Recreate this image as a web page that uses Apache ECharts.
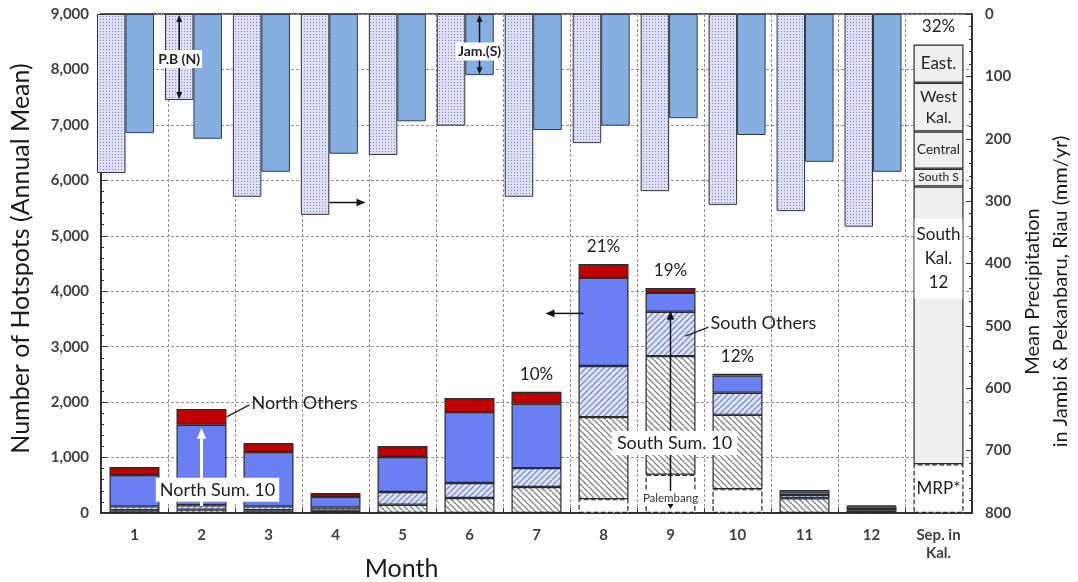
<!DOCTYPE html>
<html><head><meta charset="utf-8">
<script src="https://cdn.jsdelivr.net/npm/echarts@6/dist/echarts.min.js"></script>
<style>html,body{margin:0;padding:0;background:#fff}#c{width:1078px;height:582px}</style>
</head><body><div id="c"></div>
<script>
// ---------- DATA ----------
const months = ['1','2','3','4','5','6','7','8','9','10','11','12','Sep. in\nKal.'];
const precipMonths = ['1','2','3','4','5','6','7','8','9','10','11','12'];
// Mean precipitation (mm/yr), right axis (inverted)
const precipPB = [255,138,293,322,226,179,293,207,284,306,316,341];      // Pekanbaru, Riau (North)
const precipJambi = [191,200,253,224,172,98,186,179,167,194,237,253];    // Jambi (South)
// Hotspots (annual mean), stacked bottom -> top
const palembang   = [0,0,0,0,0,0,0,250,690,430,0,0,0];
const southSum10  = [50,60,50,40,150,270,470,1480,2140,1340,265,40,0];
const southOthers = [70,80,70,60,230,270,340,920,800,400,60,30,0];
const northSum10  = [565,1450,980,190,630,1280,1160,1590,340,310,60,50,0];
const northOthers = [145,288,163,72,199,253,217,253,90,30,30,20,0];
const pctLabels   = ['','','','','','','10%','21%','19%','12%','','','32%'];
// September in Kalimantan breakdown (bottom -> top)
const sepSegNames  = ['MRP*','South\nKal.\n12','South S','Central','West\nKal.','East.'];
const sepSegValues = [880,5010,320,670,880,690];
const leftTicks = [0,1000,2000,3000,4000,5000,6000,7000,8000,9000];
const rightTicks = [0,100,200,300,400,500,600,700,800];

// ---------- STYLE HELPERS ----------
const FONT = 'Lato, "Open Sans", sans-serif';
function hatch(bg, line, dir, s, lw){
  const c=document.createElement('canvas'); c.width=c.height=s;
  const g=c.getContext('2d'); g.fillStyle=bg; g.fillRect(0,0,s,s);
  g.strokeStyle=line; g.lineWidth=lw; g.beginPath();
  for(const k of [-1,0,1]){
    if(dir==='/'){ g.moveTo(k*s, s); g.lineTo(k*s+s, 0); }
    else { g.moveTo(k*s, 0); g.lineTo(k*s+s, s); }
  }
  g.stroke();
  return {image:c, repeat:'repeat'};
}
function dots(bg, dot){
  const c=document.createElement('canvas'); c.width=c.height=3;
  const g=c.getContext('2d'); g.fillStyle=bg; g.fillRect(0,0,3,3);
  g.fillStyle=dot; g.fillRect(1,1,1,1);
  return {image:c, repeat:'repeat'};
}
const dotFill = dots('#dcdff6','#7f85c2');
const ssFill = hatch('#ffffff','#858585','\\',6,1.4);
const soFill = hatch('#e0e5fb','#7a8cdf','/',6,1.4);
const border = {borderColor:'#2b2b2b', borderWidth:1.2};
const PBW = 28.5, HBW = 50;
const nn = v => (v > 0 ? v : null);

const chart = echarts.init(document.getElementById('c'), null, {renderer:'canvas'});

const hotSeries = [
  ['Palembang', palembang, {color:'#ffffff', borderColor:'#222', borderWidth:1.2, borderType:'dashed'}],
  ['South Sum. 10', southSum10, Object.assign({color:ssFill}, border)],
  ['South Others', southOthers, Object.assign({color:soFill}, border)],
  ['North Sum. 10', northSum10, Object.assign({color:'#6a7ff2'}, border)],
  ['North Others', northOthers, Object.assign({color:'#c00000'}, border)]
].map(([name, arr, st]) => ({
  name, type:'bar', xAxisIndex:0, yAxisIndex:0, stack:'hs', barWidth:HBW,
  data: arr.map(nn), itemStyle: st
}));

const sepLabelStyle = {
  'MRP*': {fontSize:17},
  'South\nKal.\n12': {fontSize:17, position:'insideTop', distance:32, backgroundColor:'#fff', padding:[4,2], lineHeight:24},
  'South S': {fontSize:12},
  'Central': {fontSize:13.5},
  'West\nKal.': {fontSize:16, lineHeight:21},
  'East.': {fontSize:17}
};
const sepSeries = sepSegNames.map((name, k) => ({
  name, type:'bar', xAxisIndex:0, yAxisIndex:0, stack:'hs', barWidth:HBW,
  data: months.map((m,i) => i === 12 ? sepSegValues[k] : null),
  itemStyle: name === 'MRP*'
    ? {color:'#ffffff', borderColor:'#222', borderWidth:1.2, borderType:'dashed'}
    : Object.assign({color:'#efefef'}, border),
  label: Object.assign({show:true, position:'inside', color:'#222', fontFamily:FONT,
    formatter: () => name}, sepLabelStyle[name])
}));

const pctSeries = {
  name:'pct', type:'bar', xAxisIndex:0, yAxisIndex:0, stack:'hs', barWidth:HBW,
  data: months.map(() => 0),
  itemStyle:{color:'rgba(0,0,0,0)', borderWidth:0},
  label:{show:true, position:'top', distance:9, color:'#222', fontSize:17, fontFamily:FONT,
    formatter: p => pctLabels[p.dataIndex]}
};

const option = {
  animation:false,
  backgroundColor:'#fff',
  grid:[
    {left:94, right:106, top:14, bottom:69, show:true, borderColor:'#222', borderWidth:1.5, backgroundColor:'transparent'},
    {left:91.5, right:171, top:14, bottom:69}
  ],
  xAxis:[
    {gridIndex:0, type:'category', data:months,
     axisLine:{lineStyle:{color:'#222', width:1.5}},
     axisTick:{show:true, inside:true, length:5, lineStyle:{color:'#333'}},
     axisLabel:{color:'#404040', fontWeight:'bold', fontSize:15, fontFamily:FONT, margin:13, lineHeight:18},
     splitLine:{show:true, lineStyle:{color:'#8f8f8f', type:[3,2], width:1}}},
    {gridIndex:1, type:'category', data:precipMonths, show:false}
  ],
  yAxis:[
    {gridIndex:0, type:'value', min:0, max:9000, interval:1000,
     name:'Number of Hotspots (Annual Mean)', nameLocation:'middle', nameGap:68,
     nameTextStyle:{fontSize:25, color:'#1a1a1a', fontFamily:FONT, padding:[0,0,0,10]},
     axisLine:{show:true, lineStyle:{color:'#222', width:1.5}},
     axisTick:{show:true, inside:true, length:6, lineStyle:{color:'#333'}},
     minorTick:{show:true, splitNumber:5, length:3, lineStyle:{color:'#333'}},
     axisLabel:{color:'#404040', fontWeight:'bold', fontSize:15, fontFamily:FONT, margin:12,
       formatter: v => leftTicks.includes(v) ? v.toLocaleString('en-US') : ''},
     splitLine:{show:true, lineStyle:{color:'#8f8f8f', type:[3,2], width:1}}},
    {gridIndex:0, type:'value', position:'right', min:0, max:800, interval:100, inverse:true,
     axisLine:{show:true, lineStyle:{color:'#222', width:1.5}},
     axisTick:{show:true, inside:true, length:6, lineStyle:{color:'#333'}},
     minorTick:{show:true, splitNumber:5, length:3, lineStyle:{color:'#333'}},
     axisLabel:{color:'#404040', fontWeight:'bold', fontSize:15, fontFamily:FONT, margin:13,
       formatter: v => rightTicks.includes(v) ? String(v) : ''},
     splitLine:{show:false}},
    {gridIndex:1, type:'value', min:0, max:800, inverse:true, show:false}
  ],
  series:[
    {name:'P.B (N)', type:'bar', xAxisIndex:1, yAxisIndex:2, data:precipPB, barWidth:PBW, barGap:'0%',
     itemStyle:Object.assign({color:dotFill}, {borderColor:'#333', borderWidth:1})},
    {name:'Jam.(S)', type:'bar', xAxisIndex:1, yAxisIndex:2, data:precipJambi, barWidth:PBW, barGap:'0%',
     itemStyle:{color:'#86aee1', borderColor:'#2f3b55', borderWidth:1}},
    ...hotSeries, ...sepSeries, pctSeries
  ]
};
chart.setOption(option);

// ---------- ANNOTATIONS (positions derived from axes) ----------
const P = (si, cat, val) => chart.convertToPixel({seriesIndex:si}, [cat, val]);
const els = [];
function arrow(x1,y1,x2,y2,color,w,head,both){
  const ang=Math.atan2(y2-y1,x2-x1);
  const sx = both ? x1 + head*0.8*Math.cos(ang) : x1, sy = both ? y1 + head*0.8*Math.sin(ang) : y1;
  const ex = x2 - head*0.8*Math.cos(ang), ey = y2 - head*0.8*Math.sin(ang);
  els.push({type:'line', z:100, shape:{x1:sx,y1:sy,x2:ex,y2:ey}, style:{stroke:color, lineWidth:w}});
  const addHead=(xa,ya,xb,yb)=>{
    const a=Math.atan2(yb-ya,xb-xa), L=head, W=head*0.42;
    els.push({type:'polygon', z:101, shape:{points:[[xb,yb],
      [xb-L*Math.cos(a)+W*Math.sin(a), yb-L*Math.sin(a)-W*Math.cos(a)],
      [xb-L*Math.cos(a)-W*Math.sin(a), yb-L*Math.sin(a)+W*Math.cos(a)]]}, style:{fill:color}});
  };
  addHead(x1,y1,x2,y2); if(both) addHead(x2,y2,x1,y1);
}
function txt(x,y,text,st){
  els.push({type:'text', z:110, x, y, style:Object.assign({text, fill:'#222', fontFamily:FONT, fontSize:17,
    align:'center', verticalAlign:'middle'}, st||{})});
}
// P.B (N) double arrow on month 2 dotted bar
{
  const c = P(0,1,0), b = P(0,1,precipPB[1]);
  const x = c[0]-PBW/2;
  arrow(x, c[1]+1, x, b[1]-1, '#111', 1.5, 7, true);
  txt(x, (c[1]+b[1])/2+2, 'P.B (N)', {fontSize:14, fontWeight:'bold', backgroundColor:'#fff', padding:[2,2]});
}
// Jam.(S) double arrow on month 6 blue bar
{
  const c = P(1,5,0), b = P(1,5,precipJambi[5]);
  const x = c[0]+PBW/2;
  arrow(x, c[1]+1, x, b[1]-1, '#111', 1.5, 7, true);
  txt(x, (c[1]+b[1])/2+7, 'Jam.(S)', {fontSize:14, fontWeight:'bold', backgroundColor:'#fff', padding:[2,2]});
}
// axis pointers
{
  const a = P(2,3,5600); arrow(a[0]-6, a[1], a[0]+30, a[1], '#111', 1.5, 9, false);
  const b = P(2,7,3600); arrow(b[0]-20, b[1], b[0]-58, b[1], '#111', 1.5, 9, false);
}
// North Sum. 10 (white arrow in month 2) and North Others
{
  const base = P(2,1,0);
  const topNS = P(2,1,southSum10[1]+southOthers[1]+northSum10[1]);
  arrow(base[0], base[1]-7, base[0], topNS[1]+3, '#ffffff', 3, 11, false);
  const lab = P(2,1,420);
  txt(lab[0]+16, lab[1], 'North Sum. 10', {fontSize:18, backgroundColor:'#fff', padding:[3,4]});
  const redMid = P(2,1,southSum10[1]+southOthers[1]+northSum10[1]+northOthers[1]/2);
  const rx = redMid[0]+HBW/2;
  els.push({type:'line', z:100, shape:{x1:rx, y1:redMid[1], x2:rx+23, y2:redMid[1]-12}, style:{stroke:'#222', lineWidth:1.3}});
  txt(rx+25, redMid[1]-14, 'North Others', {fontSize:18, align:'left'});
}
// South Sum. 10 (black arrow in month 9), South Others, Palembang
{
  const base = P(2,8,0);
  const topS = P(2,8,palembang[8]+southSum10[8]+southOthers[8]);
  arrow(base[0], base[1]-15, base[0], topS[1]-1, '#111', 1.5, 9, false);
  const lab = P(2,8,1263);
  txt(lab[0]+4, lab[1], 'South Sum. 10', {fontSize:18, backgroundColor:'#fff', padding:[3,5]});
  txt(base[0], base[1]-15, 'Palembang', {fontSize:11.5, fill:'#333', backgroundColor:'#fff', padding:[1,2]});
  els.push({type:'polygon', z:112, shape:{points:[[base[0]-3,base[1]-9],[base[0]+3,base[1]-9],[base[0],base[1]-4]]}, style:{fill:'#111'}});
  const so = P(2,8,palembang[8]+southSum10[8]+southOthers[8]*0.45);
  els.push({type:'line', z:100, shape:{x1:so[0]+15, y1:so[1], x2:so[0]+38, y2:so[1]-9}, style:{stroke:'#222', lineWidth:1.3}});
  txt(so[0]+40, so[1]-13, 'South Others', {fontSize:18, align:'left'});
}
// right axis name and x axis name
{
  const g = chart.getModel().getComponent('grid',0).coordinateSystem.getRect();
  els.push({type:'text', z:110, x:g.x+g.width+75, y:g.y+g.height/2+28, rotation:Math.PI/2,
    style:{text:'Mean Precipitation\nin Jambi & Pekanbaru, Riau (mm/yr)', fill:'#1a1a1a', fontFamily:FONT,
      fontSize:20, lineHeight:28, align:'center', verticalAlign:'middle'}});
  els.push({type:'text', z:110, x:g.x+g.width*0.345, y:g.y+g.height+56,
    style:{text:'Month', fill:'#1a1a1a', fontFamily:FONT, fontSize:25, align:'center', verticalAlign:'middle'}});
}
chart.setOption({graphic:els});
</script>
</body></html>
